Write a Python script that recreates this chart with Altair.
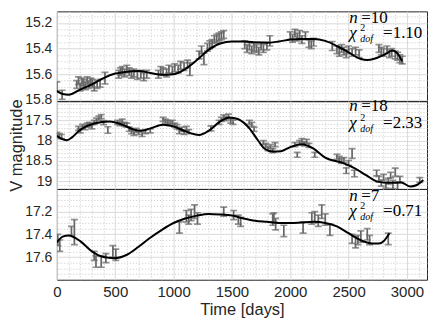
import altair as alt
import pandas as pd
import numpy as np

# ---------------- Panel 1 (n=10) ----------------
p1_t = [0, 45, 170, 185, 200, 215, 230, 245, 260, 275,
        290, 305, 320, 345, 370, 412, 530, 545, 560, 580,
        600, 620, 640, 660, 690, 720, 745, 770, 870, 890,
        910, 940, 960, 990, 1010, 1040, 1060, 1090, 1120, 1140,
        1220, 1240, 1260, 1290, 1310, 1330, 1350, 1370, 1390, 1410,
        1430, 1610, 1630, 1650, 1670, 1690, 1710, 1730, 1750, 1770,
        1800, 1825, 2000, 2020, 2040, 2060, 2080, 2100, 2130, 2160,
        2180, 2200, 2360, 2400, 2420, 2440, 2460, 2480, 2500, 2530,
        2560, 2590, 2760, 2780, 2800, 2830, 2850, 2870, 2900, 2920,
        2940, 2960]
p1_mag = [15.70, 15.76, 15.68, 15.65, 15.70, 15.66, 15.67, 15.69, 15.65, 15.68,
          15.66, 15.67, 15.70, 15.68, 15.67, 15.63, 15.60, 15.58, 15.57, 15.59,
          15.56, 15.58, 15.60, 15.59, 15.61, 15.60, 15.62, 15.60, 15.60, 15.57,
          15.58, 15.59, 15.56, 15.57, 15.55, 15.56, 15.53, 15.54, 15.52, 15.56,
          15.45, 15.41, 15.48, 15.39, 15.37, 15.36, 15.33, 15.32, 15.31, 15.30,
          15.29, 15.37, 15.40, 15.38, 15.41, 15.39, 15.40, 15.42, 15.38, 15.40,
          15.38, 15.34, 15.30, 15.32, 15.28, 15.31, 15.29, 15.33, 15.30, 15.36,
          15.37, 15.35, 15.38, 15.41, 15.43, 15.40, 15.42, 15.44, 15.41, 15.43,
          15.42, 15.44, 15.40, 15.42, 15.43, 15.41, 15.44, 15.43, 15.45, 15.46,
          15.48, 15.49]
p1_err = [0.04, 0.035, 0.03, 0.03, 0.03, 0.03, 0.03, 0.03, 0.03, 0.03,
          0.03, 0.03, 0.03, 0.03, 0.03, 0.045, 0.03, 0.03, 0.03, 0.03,
          0.03, 0.03, 0.03, 0.03, 0.03, 0.03, 0.03, 0.03, 0.03, 0.03,
          0.03, 0.03, 0.03, 0.03, 0.03, 0.03, 0.03, 0.03, 0.03, 0.05,
          0.03, 0.03, 0.045, 0.03, 0.03, 0.03, 0.03, 0.03, 0.03, 0.03,
          0.03, 0.03, 0.03, 0.03, 0.03, 0.03, 0.03, 0.03, 0.03, 0.03,
          0.03, 0.04, 0.03, 0.03, 0.03, 0.03, 0.03, 0.03, 0.03, 0.03,
          0.03, 0.03, 0.035, 0.03, 0.03, 0.03, 0.03, 0.03, 0.03, 0.03,
          0.03, 0.03, 0.03, 0.03, 0.03, 0.03, 0.03, 0.03, 0.03, 0.03,
          0.03, 0.03]
c1_t = [0, 50, 100, 200, 300, 400, 500, 600, 700, 800, 900, 1000, 1100, 1200,
        1300, 1400, 1500, 1600, 1700, 1800, 1900, 2000, 2100, 2200, 2300, 2400,
        2500, 2600, 2660, 2720, 2800, 2880, 2920, 2960]
c1_mag = [15.73, 15.755, 15.76, 15.72, 15.68, 15.63, 15.595, 15.58, 15.575, 15.59,
          15.605, 15.60, 15.56, 15.49, 15.41, 15.36, 15.345, 15.345, 15.35, 15.355,
          15.345, 15.33, 15.325, 15.325, 15.34, 15.38, 15.43, 15.48, 15.49, 15.48,
          15.45, 15.415, 15.44, 15.50]

# ---------------- Panel 2 (n=18) ----------------
p2_t = [0, 20, 40, 185, 200, 220, 240, 260, 280, 300,
        320, 340, 360, 380, 400, 437, 520, 540, 560, 580,
        600, 620, 640, 660, 680, 700, 730, 760, 800, 910,
        930, 950, 970, 990, 1010, 1030, 1050, 1070, 1090, 1110,
        1130, 1320, 1390, 1410, 1430, 1450, 1470, 1490, 1510, 1650,
        1670, 1690, 1770, 1790, 1810, 1830, 1850, 1870, 2040, 2060,
        2080, 2100, 2120, 2140, 2160, 2210, 2400, 2420, 2440, 2460,
        2480, 2500, 2530, 2550, 2740, 2760, 2780, 2800, 2820, 2840,
        2860, 2880, 2900, 2920, 2940, 3110]
p2_mag = [17.85, 17.88, 17.90, 17.70, 17.76, 17.65, 17.68, 17.62, 17.60, 17.66,
          17.55, 17.50, 17.45, 17.41, 17.56, 17.74, 17.55, 17.58, 17.52, 17.60,
          17.62, 17.72, 17.78, 17.82, 17.75, 17.80, 17.85, 17.78, 17.76, 17.48,
          17.52, 17.55, 17.58, 17.55, 17.62, 17.66, 17.78, 17.72, 17.80, 17.70,
          17.78, 17.70, 17.55, 17.48, 17.42, 17.46, 17.40, 17.52, 17.55, 17.55,
          17.60, 17.72, 18.05, 18.12, 18.20, 18.15, 18.25, 18.10, 18.10, 18.35,
          18.05, 18.00, 18.08, 18.02, 18.12, 18.35, 18.40, 18.45, 18.50, 18.48,
          18.74, 18.55, 18.32, 18.81, 18.80, 18.95, 19.05, 18.90, 19.10, 19.00,
          18.85, 19.08, 18.78, 19.12, 18.95, 18.97]
p2_err = [0.05, 0.05, 0.05, 0.05, 0.05, 0.05, 0.05, 0.05, 0.05, 0.05,
          0.05, 0.05, 0.05, 0.05, 0.05, 0.08, 0.05, 0.05, 0.05, 0.05,
          0.05, 0.05, 0.05, 0.05, 0.05, 0.05, 0.05, 0.05, 0.05, 0.05,
          0.05, 0.05, 0.05, 0.05, 0.05, 0.05, 0.05, 0.05, 0.05, 0.05,
          0.05, 0.06, 0.05, 0.05, 0.05, 0.05, 0.05, 0.05, 0.05, 0.05,
          0.05, 0.05, 0.05, 0.05, 0.05, 0.05, 0.05, 0.05, 0.05, 0.06,
          0.05, 0.05, 0.05, 0.05, 0.05, 0.06, 0.06, 0.06, 0.06, 0.06,
          0.07, 0.06, 0.12, 0.08, 0.07, 0.07, 0.07, 0.07, 0.07, 0.07,
          0.07, 0.10, 0.10, 0.09, 0.07, 0.06]
c2_t = [0, 40, 85, 130, 185, 250, 320, 450, 570, 650, 720, 800, 910, 1000,
        1100, 1220, 1300, 1400, 1480, 1550, 1650, 1720, 1780, 1850, 1920, 2000,
        2100, 2200, 2300, 2450, 2550, 2650, 2750, 2850, 2950, 3030, 3080, 3140]
c2_mag = [17.88, 17.96, 17.99, 17.92, 17.77, 17.65, 17.58, 17.53, 17.62, 17.72,
          17.76, 17.70, 17.61, 17.65, 17.77, 17.86, 17.76, 17.53, 17.43, 17.47,
          17.70, 17.98, 18.20, 18.27, 18.26, 18.16, 18.09, 18.20, 18.42, 18.55,
          18.68, 18.85, 19.01, 19.04, 19.03, 19.13, 19.10, 18.97]

# ---------------- Panel 3 (n=7) ----------------
p3_t = [8, 25, 125, 150, 320, 335, 380, 420, 480, 505,
        1050, 1110, 1130, 1150, 1180, 1205, 1430, 1515, 1555, 1575,
        1850, 1860, 1875, 1945, 2110, 2185, 2210, 2240, 2270, 2300,
        2340, 2530, 2560, 2580, 2605, 2660, 2680, 2840]
p3_mag = [17.45, 17.50, 17.37, 17.38, 17.59, 17.64, 17.64, 17.61, 17.55, 17.58,
          17.34, 17.24, 17.27, 17.23, 17.20, 17.26, 17.20, 17.23, 17.27, 17.29,
          17.27, 17.25, 17.31, 17.37, 17.34, 17.26, 17.25, 17.28, 17.20, 17.27,
          17.36, 17.44, 17.47, 17.45, 17.42, 17.40, 17.45, 17.44]
p3_err = [0.05, 0.05, 0.04, 0.11, 0.04, 0.05, 0.05, 0.04, 0.05, 0.05,
          0.05, 0.05, 0.04, 0.05, 0.06, 0.05, 0.04, 0.04, 0.04, 0.04,
          0.05, 0.04, 0.05, 0.05, 0.05, 0.05, 0.05, 0.05, 0.06, 0.05,
          0.05, 0.04, 0.05, 0.04, 0.05, 0.05, 0.04, 0.05]
c3_t = [0, 50, 100, 200, 300, 400, 490, 600, 700, 800, 900, 1000, 1100, 1200,
        1300, 1400, 1500, 1600, 1700, 1800, 1900, 2000, 2100, 2200, 2300, 2400,
        2500, 2600, 2700, 2760, 2800, 2850]
c3_mag = [17.47, 17.42, 17.41, 17.46, 17.55, 17.60, 17.61, 17.58, 17.51, 17.43,
          17.36, 17.30, 17.26, 17.235, 17.22, 17.225, 17.235, 17.26, 17.28, 17.29,
          17.30, 17.30, 17.295, 17.29, 17.30, 17.33, 17.39, 17.45, 17.48, 17.48,
          17.46, 17.39]

labels_n = ["=10", "=18", "=7"]
labels_chi = ["=1.10", "=2.33", "=0.71"]

# axis tick values (major / minor)
x_major = [0, 500, 1000, 1500, 2000, 2500, 3000]
x_minor = [v for v in range(0, 3200, 100) if v % 500 != 0]
y1_major = [15.2, 15.4, 15.6, 15.8]
y1_minor = [15.15, 15.25, 15.3, 15.35, 15.45, 15.5, 15.55, 15.65, 15.7, 15.75]
y2_major = [17.5, 18.0, 18.5, 19.0]
y2_minor = [17.1, 17.2, 17.3, 17.4, 17.6, 17.7, 17.8, 17.9, 18.1, 18.2,
            18.3, 18.4, 18.6, 18.7, 18.8, 18.9, 19.1]
y3_major = [17.2, 17.4, 17.6]
y3_minor = [17.05, 17.1, 17.15, 17.25, 17.3, 17.35, 17.45, 17.5, 17.55,
            17.65, 17.7, 17.75]

GREY = "#666666"
DARK = "#262626"
X_DOMAIN = [0, 3172]
W = 371
SERIF = "Liberation Serif"
MAJOR_GRID = dict(grid=True, gridColor="#dadada", gridWidth=1)
MINOR_GRID = dict(grid=True, gridColor="#c8c8c8", gridWidth=1, gridDash=[1, 2])


def panel(t, mag, err, ct, cm, ydom, ymaj, ymin, height, show_x, show_ytitle,
          ntxt, chitxt, ny, chiy):
    pts = pd.DataFrame({"t": t, "mag": mag, "err": err})
    cur = pd.DataFrame({"t": ct, "mag": cm})
    if show_x:
        xaxis = alt.Axis(values=x_major, orient="bottom", domain=False,
                         ticks=False, format="d", labelFontSize=15,
                         labelPadding=5, labelColor=DARK, labelFlush=False,
                         labelOverlap=False, title="Time [days]",
                         titleFontSize=16.5, titleFontWeight="normal",
                         titleColor=DARK, titlePadding=2, **MAJOR_GRID)
    else:
        xaxis = alt.Axis(values=x_major, orient="bottom", domain=False,
                         ticks=False, labels=False, title=None,
                         minExtent=0, maxExtent=0, **MAJOR_GRID)
    ykw = dict(values=ymaj, orient="left", domain=False, ticks=False,
               format="~g", labelFontSize=14, labelPadding=5,
               labelColor=DARK, labelFlush=False, labelOverlap=False,
               minExtent=32, maxExtent=32, **MAJOR_GRID)
    if show_ytitle:
        yaxis = alt.Axis(title="V magnitude", titleFontSize=16.5,
                         titleFontWeight="normal", titleColor=DARK,
                         titlePadding=0, **ykw)
    else:
        yaxis = alt.Axis(title=None, **ykw)
    x_min_axis = alt.Axis(values=x_minor, orient="top", domain=False,
                          ticks=False, labels=False, title=None,
                          minExtent=0, maxExtent=0, **MINOR_GRID)
    y_min_axis = alt.Axis(values=ymin, orient="right", domain=False,
                          ticks=False, labels=False, title=None,
                          minExtent=0, maxExtent=0, **MINOR_GRID)
    xs = alt.Scale(domain=X_DOMAIN, nice=False, zero=False)
    ys = alt.Scale(domain=ydom, reverse=True, nice=False, zero=False)
    base = alt.Chart(pts).transform_calculate(
        lo="datum.mag - datum.err", hi="datum.mag + datum.err")
    bars = base.mark_rule(color=GREY, strokeWidth=1.7, clip=True).encode(
        x=alt.X("t:Q", scale=xs, axis=xaxis),
        y=alt.Y("lo:Q", scale=ys, axis=yaxis),
        y2="hi:Q")
    cap_lo = base.mark_tick(color=GREY, orient="horizontal", size=7,
                            thickness=1.7, clip=True).encode(
        x=alt.X("t:Q", scale=xs, axis=x_min_axis),
        y=alt.Y("lo:Q", scale=ys, axis=y_min_axis))
    cap_hi = base.mark_tick(color=GREY, orient="horizontal", size=7,
                            thickness=1.7, clip=True).encode(
        x=alt.X("t:Q", scale=xs, axis=None),
        y=alt.Y("hi:Q", scale=ys, axis=None))
    line = alt.Chart(cur).mark_line(color="black", strokeWidth=2,
                                    interpolate="monotone", clip=True).encode(
        x=alt.X("t:Q", scale=xs, axis=None),
        y=alt.Y("mag:Q", scale=ys, axis=None))
    one = pd.DataFrame({"k": [0]})

    def txt(s, x, y, size, italic):
        kw = dict(text=s, font=SERIF, fontSize=size, align="left",
                  baseline="alphabetic", color="black")
        if italic:
            kw["fontStyle"] = "italic"
        return alt.Chart(one).mark_text(**kw).encode(
            x=alt.value(x), y=alt.value(y))

    anns = [
        txt("n", 293, ny, 17, True),
        txt(ntxt, 305, ny, 17, False),
        txt("χ", 293, chiy, 17, True),
        txt("2", 304, chiy - 7, 10, False),
        txt("dof", 304, chiy + 4, 10, True),
        txt(chitxt, 327, chiy, 17, False),
    ]
    return alt.layer(bars, cap_lo, cap_hi, line, *anns).resolve_axis(
        x="independent", y="independent").properties(width=W, height=height)


panel1 = panel(p1_t, p1_mag, p1_err, c1_t, c1_mag, [15.11, 15.81],
               y1_major, y1_minor, 90, False, False,
               labels_n[0], labels_chi[0], 12, 27)
panel2 = panel(p2_t, p2_mag, p2_err, c2_t, c2_mag, [17.03, 19.19],
               y2_major, y2_minor, 88, False, True,
               labels_n[1], labels_chi[1], 10, 27)
panel3 = panel(p3_t, p3_mag, p3_err, c3_t, c3_mag, [17.0, 17.8],
               y3_major, y3_minor, 91, True, False,
               labels_n[2], labels_chi[2], 12, 27)

chart = alt.vconcat(panel1, panel2, panel3, spacing=0, bounds="flush").properties(
    padding={"left": 0, "top": 0, "right": 0, "bottom": 0}
).configure(font="Liberation Sans").configure_view(
    stroke=DARK, strokeWidth=1)

chart.save("out.html", embed_options={"renderer": "svg", "actions": False})
